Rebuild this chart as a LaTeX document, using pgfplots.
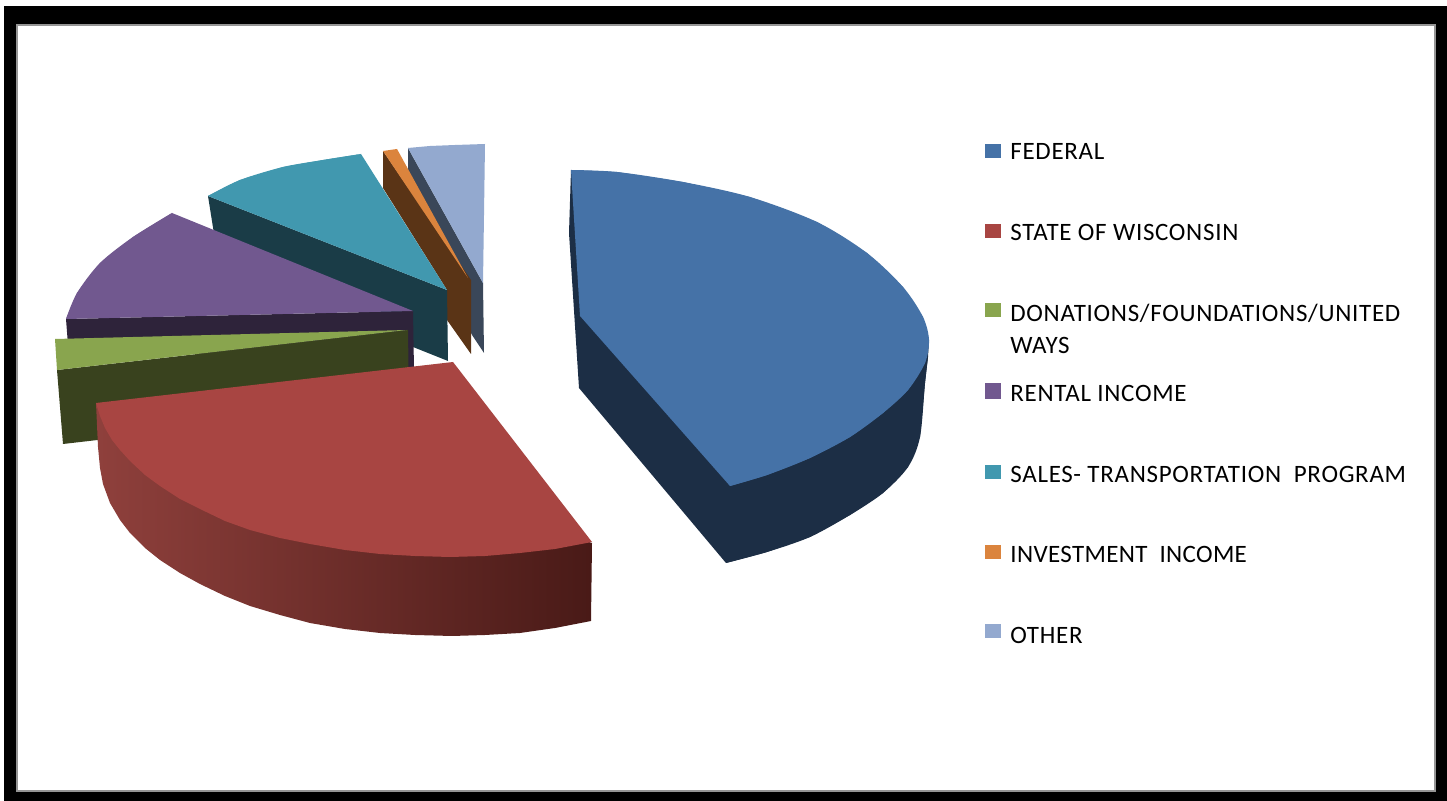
\documentclass[border=0pt]{standalone}
\usepackage{fontspec}
\setmainfont[LetterSpace=2.8]{Carlito}
\usepackage{pgfplots}
\pgfplotsset{compat=1.18}

% Office 2007 palette
\definecolor{fedTop}{HTML}{4572A7}
\definecolor{fedSide}{HTML}{1C2E45}
\definecolor{stateTop}{HTML}{A84542}
\definecolor{stateL}{HTML}{8F403C}
\definecolor{stateM}{HTML}{76302E}
\definecolor{stateR}{HTML}{491A17}
\definecolor{donTop}{HTML}{89A54E}
\definecolor{donSide}{HTML}{39421E}
\definecolor{renTop}{HTML}{71588F}
\definecolor{renSide}{HTML}{2E233A}
\definecolor{salTop}{HTML}{4198AF}
\definecolor{salSide}{HTML}{1A3C47}
\definecolor{invTop}{HTML}{DB843D}
\definecolor{invSide}{HTML}{5A3416}
\definecolor{othTop}{HTML}{93A9CF}
\definecolor{othSide}{HTML}{3A4759}
\definecolor{frameGrey}{HTML}{959595}

\tikzset{lab/.style={anchor=base west, inner sep=0pt, font=\fontsize{12.5pt}{14pt}\selectfont}}

\begin{document}
\begin{tikzpicture}
\begin{axis}[
    scale only axis,
    width=723.5pt, height=400.5pt,
    xmin=0, xmax=1447, ymin=0, ymax=801,
    y dir=reverse,
    hide axis,
    clip=false,
    no markers,
    every axis plot/.append style={draw=none, line width=0pt},
]
% page and frame
\addplot[fill=white] coordinates {(0,0) (1447,0) (1447,801) (0,801)} -- cycle;
\addplot[fill=black] coordinates {(4,6) (1447,6) (1447,801) (4,801)} -- cycle;
\addplot[fill=frameGrey] coordinates {(16,24) (1436,24) (1436,792) (16,792)} -- cycle;
\addplot[fill=white] coordinates {(18,26) (1434,26) (1434,790) (18,790)} -- cycle;

% OTHER
\addplot[fill=othSide] coordinates {(408,148) (483,283) (484,353) (472,335) (408,200)} -- cycle;
\addplot[fill=othTop] coordinates {(408,148) (430,146) (455,145) (485,144) (484,215) (483,283)} -- cycle;

% INVESTMENT INCOME
\addplot[fill=invSide] coordinates {(383,151) (471,280) (471,354) (447,320) (447,290) (383,188)} -- cycle;
\addplot[fill=invTop] coordinates {(383,151) (397,149) (468,278)} -- cycle;

% SALES
\addplot[fill=salSide] coordinates {(208,196) (447,290) (448,361) (413,347) (400,320) (215,240)} -- cycle;
\addplot[fill=salTop] coordinates {(208,196) (240,180) (283,167) (323,160) (361,154) (447,290)} -- cycle;
\addplot[fill=salTop, smooth] coordinates {(208,196) (240,180) (283,167) (323,160) (361,154)};

% RENTAL
\addplot[fill=renSide] coordinates {(66,319) (413,311) (414,370) (68,345)} -- cycle;
\addplot[fill=renTop] coordinates {(172,213) (133,237) (100,263) (77,293) (66,319) (413,311)} -- cycle;
\addplot[fill=renTop, smooth] coordinates {(172,213) (133,237) (100,263) (77,293) (66,319)};

% DONATIONS
\addplot[fill=donSide] coordinates {(57,370) (408,330) (409,404) (63,444)} -- cycle;
\addplot[fill=donTop] coordinates {(55,339) (407,330) (57,370)} -- cycle;

% STATE OF WISCONSIN
\addplot[left color=stateL, middle color=stateM, right color=stateR] coordinates {
    (96,403) (98,447) (100,468) (103,484) (110,503) (120,520) (130,533) (145,548)
    (160,560) (180,573) (200,584) (225,596) (250,606) (280,615) (310,623) (345,629)
    (380,633) (415,635) (452,636) (485,635) (520,633) (555,628) (591,621) (592,543)
    (450,500)} -- cycle;
\addplot[fill=stateTop] coordinates {
    (96,403) (453,362) (592,542) (555,549) (520,553) (485,556) (450,557) (415,556)
    (380,554) (345,550) (310,544) (280,538) (250,530) (225,521) (200,509) (180,499)
    (160,486) (145,475) (130,461) (120,450) (112,440) (105,428) (100,416)} -- cycle;

% FEDERAL
\addplot[fill=fedSide] coordinates {
    (571,170) (569,233) (579,388) (726,563) (767,552) (810,537) (850,515) (883,493)
    (908,467) (920,437) (925,383) (928,357) (929,340) (730,400)} -- cycle;
\addplot[fill=fedSide, smooth] coordinates {
    (726,563) (767,552) (810,537) (850,515) (883,493) (908,467) (920,437) (925,383) (928,357)};
\addplot[fill=fedTop] coordinates {
    (571,170) (617,172) (683,182) (750,197) (817,222) (867,253) (903,287) (923,317)
    (929,340) (925,363) (908,390) (883,413) (850,437) (810,458) (767,475) (730,486)
    (580,316)} -- cycle;
\addplot[fill=fedTop, smooth] coordinates {
    (571,170) (617,172) (683,182) (750,197) (817,222) (867,253) (903,287) (923,317)
    (929,340) (925,363) (908,390) (883,413) (850,437) (810,458) (767,475) (730,486)};

% legend swatches
\addplot[fill=fedTop]   coordinates {(985,144) (1001,144) (1001,158) (985,158)} -- cycle;
\addplot[fill=stateTop] coordinates {(985,224) (1001,224) (1001,238) (985,238)} -- cycle;
\addplot[fill=donTop]   coordinates {(985,303) (1001,303) (1001,317) (985,317)} -- cycle;
\addplot[fill=renTop]   coordinates {(985,383) (1001,383) (1001,399) (985,399)} -- cycle;
\addplot[fill=salTop]   coordinates {(985,465) (1001,465) (1001,479) (985,479)} -- cycle;
\addplot[fill=invTop]   coordinates {(985,545) (1001,545) (1001,559) (985,559)} -- cycle;
\addplot[fill=othTop]   coordinates {(985,624) (1001,624) (1001,638) (985,638)} -- cycle;

\node[lab] at (axis cs:1010,159.2) {FEDERAL};
\node[lab] at (axis cs:1010,240.7) {STATE OF WISCONSIN};
\node[lab] at (axis cs:1010,321.2) {DONATIONS/FOUNDATIONS/UNITED};
\node[lab] at (axis cs:1010,353.4) {WAYS};
\node[lab] at (axis cs:1010,401.4) {RENTAL INCOME};
\node[lab] at (axis cs:1010,482.4) {SALES- TRANSPORTATION~~PROGRAM};
\node[lab] at (axis cs:1010,562.4) {\addfontfeature{LetterSpace=1.4}INVESTMENT~~INCOME};
\node[lab] at (axis cs:1010,644) {OTHER};
\end{axis}
\end{tikzpicture}
\end{document}
